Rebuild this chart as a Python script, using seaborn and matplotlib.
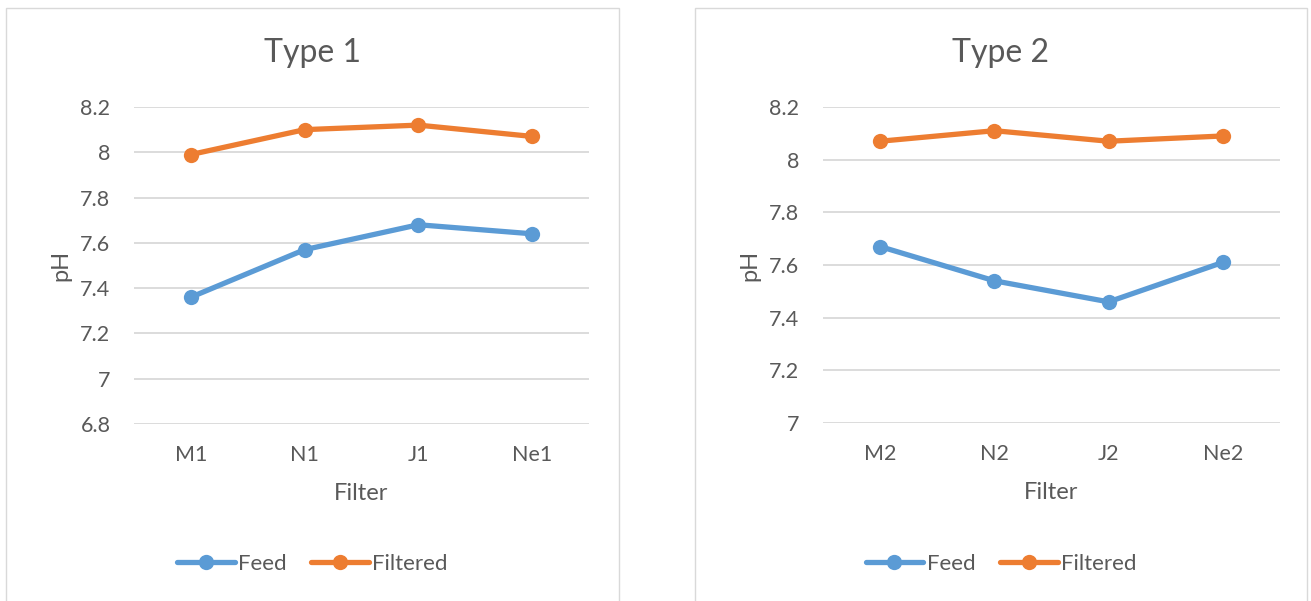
import matplotlib
matplotlib.use("Agg")
import matplotlib.pyplot as plt
from matplotlib.patches import Rectangle
import pandas as pd
import seaborn as sns

# pH readings per filter
filters_1 = ["M1", "N1", "J1", "Ne1"]
feed_1 = [7.36, 7.57, 7.68, 7.64]
filtered_1 = [7.99, 8.10, 8.12, 8.07]

filters_2 = ["M2", "N2", "J2", "Ne2"]
feed_2 = [7.67, 7.54, 7.46, 7.61]
filtered_2 = [8.07, 8.11, 8.07, 8.09]

series_names = ["Feed", "Filtered"]
titles = ["Type 1", "Type 2"]
y_limits = [(6.8, 8.2), (7.0, 8.2)]

BLUE = "#5B9BD5"
ORANGE = "#ED7D31"
TEXT = "#595959"
GRID = "#D9D9D9"

sns.set_theme(style="white")
plt.rcParams["font.family"] = ["Lato", "DejaVu Sans"]

W, H = 1311, 601
fig = plt.figure(figsize=(W / 100, H / 100), dpi=100)


def frame(x0, y0, x1, y1):
    return [x0 / W, 1 - y1 / H, (x1 - x0) / W, (y1 - y0) / H]


panels = [
    dict(box=(6, 8, 619, 640), axes=(134, 107, 589, 424),
         cats=filters_1, feed=feed_1, filt=filtered_1),
    dict(box=(695, 8, 1307, 640), axes=(823, 107, 1280, 423),
         cats=filters_2, feed=feed_2, filt=filtered_2),
]

for i, p in enumerate(panels):
    bx0, by0, bx1, by1 = p["box"]
    fig.patches.append(Rectangle((bx0 / W, 1 - by1 / H), (bx1 - bx0) / W, (by1 - by0) / H,
                                 transform=fig.transFigure, fill=False,
                                 edgecolor=GRID, linewidth=1.0, zorder=0))

    df = pd.DataFrame({
        "Filter": p["cats"] * 2,
        "pH": p["feed"] + p["filt"],
        "Series": [series_names[0]] * 4 + [series_names[1]] * 4,
    })

    ax = fig.add_axes(frame(*p["axes"]))
    sns.lineplot(data=df, x="Filter", y="pH", hue="Series", sort=False,
                 palette=[BLUE, ORANGE], marker="o", markersize=11,
                 markeredgewidth=0, linewidth=3.8, legend=False, ax=ax)

    lo, hi = y_limits[i]
    ax.set_ylim(lo, hi)
    ax.set_xlim(-0.5, 3.5)
    ticks = [round(lo + 0.2 * k, 1) for k in range(int(round((hi - lo) / 0.2)) + 1)]
    ax.set_yticks(ticks)
    ax.set_yticklabels([f"{t:g}" for t in ticks])
    ax.yaxis.grid(True, color=GRID, linewidth=1.3)
    ax.set_axisbelow(True)
    for s in ax.spines.values():
        s.set_visible(False)
    ax.tick_params(axis="y", length=0, pad=17, labelsize=15.5, labelcolor=TEXT)
    ax.tick_params(axis="x", length=0, pad=15, labelsize=15.5, labelcolor=TEXT)
    ax.set_xlabel("Filter", fontsize=17, color=TEXT, labelpad=13)
    ax.set_ylabel("pH", fontsize=17, color=TEXT, labelpad=6)

    cx = (bx0 + bx1) / 2 / W
    fig.text(cx, 1 - 53 / H, titles[i], ha="center", va="center",
             fontsize=23, color=TEXT)

    handles = ax.get_lines()[:2]
    fig.legend(handles, series_names, loc="center",
               bbox_to_anchor=(cx, 1 - 564 / H), ncol=2, frameon=False,
               fontsize=16, labelcolor=TEXT, handlelength=2.6,
               handletextpad=0.15, columnspacing=1.1, numpoints=1)

fig.savefig("out.png", dpi=100, facecolor="white")
